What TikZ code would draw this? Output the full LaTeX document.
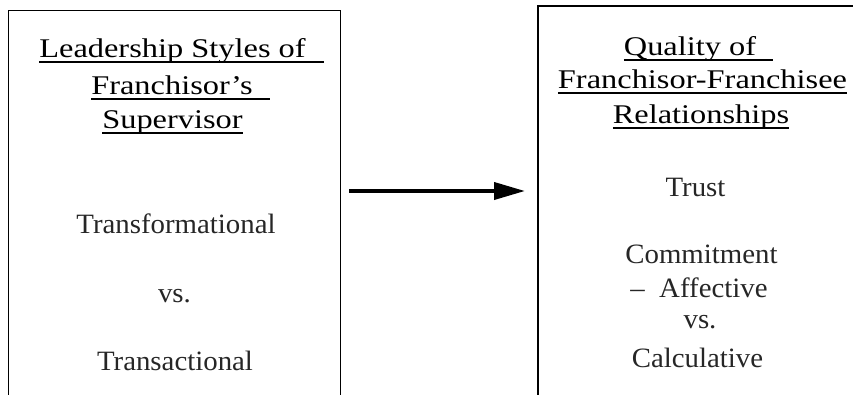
\documentclass[tikz,border=0pt]{standalone}
\usepackage{fontspec}
\setmainfont{Liberation Serif}
\newfontfamily\headfont[FakeStretch=1.2]{Liberation Serif}
\newfontfamily\bodyfont[FakeStretch=1.03]{Liberation Serif}
\usetikzlibrary{arrows.meta}

% underlined text; the rule may run #2 beyond the text (an underlined trailing space)
\newcommand\ultext[2]{%
  \setbox0\hbox{#1}%
  \rlap{\rule[-5.7pt]{\dimexpr\wd0+#2\relax}{1.3pt}}\box0}

\tikzset{
  frame/.style={draw, inner sep=0pt, anchor=north west, fill=none},
  head/.style={anchor=base, inner sep=0pt, font=\headfont\fontsize{27}{32}\selectfont},
  body/.style={anchor=base, inner sep=0pt, text=black!85, font=\bodyfont\fontsize{28}{32}\selectfont},
  conn/.style={line width=3.8pt, -{Triangle[length=31pt,width=17pt]}},
}

\begin{document}
\begin{tikzpicture}[x=1pt,y=-1pt]
  \useasboundingbox (0,0) rectangle (853,394);
  \clip (0,0) rectangle (853,394);

  % the two boxes run on past the lower (and right) edge
  \node[frame, line width=1pt, minimum width=332pt, minimum height=420pt] (lbox) at (8,10) {};
  \node[frame, line width=1.8pt, minimum width=340pt, minimum height=420pt] (rbox) at (537,5) {};

  % left box: leadership styles
  \node[head] (l1) at (172.5,57)  {\ultext{Leadership Styles of}{18pt}};
  \node[head] (l2) at (172,94)    {\ultext{Franchisor’s}{17pt}};
  \node[head] (l3) at (172.5,128) {\ultext{Supervisor}{0pt}};
  \node[body] (l4) at (176,233)   {Transformational};
  \node[body] (l5) at (174.5,302) {vs.};
  \node[body] (l6) at (175,370)   {Transactional};

  % right box: relationship quality
  \node[head] (r1) at (690,55)    {\ultext{Quality of}{17pt}};
  \node[head] (r2) at (702.5,88)  {\ultext{Franchisor-Franchisee}{0pt}};
  \node[head] (r3) at (701,123)   {\ultext{Relationships}{0pt}};
  \node[body] (r4) at (695.5,196) {Trust};
  \node[body] (r5) at (701.5,263) {Commitment};
  \node[body] (r6) at (699,297)   {–\ \ Affective};
  \node[body] (r7) at (700,328)   {vs.};
  \node[body] (r8) at (697.5,367) {Calculative};

  % connector between the boxes
  \coordinate (mid) at (0,191);
  \draw[conn] ([xshift=8pt]lbox.east |- mid) -- ([xshift=-12pt]rbox.west |- mid);
\end{tikzpicture}
\end{document}
